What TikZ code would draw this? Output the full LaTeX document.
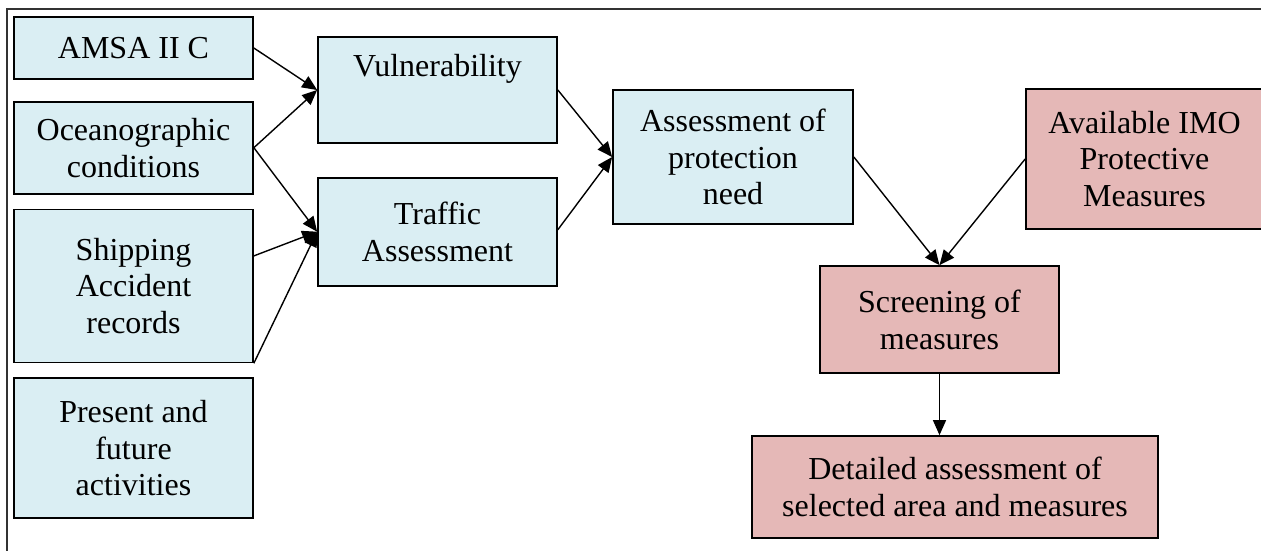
\documentclass[tikz,border=0pt]{standalone}
\usepackage{fontspec}
\setmainfont{Liberation Serif}
\usepackage{xcolor}
\usepackage{tikz}
\usetikzlibrary{arrows.meta, positioning, calc}

\definecolor{boxblue}{HTML}{DAEEF3}
\definecolor{boxpink}{HTML}{E5B8B7}

\begin{document}
\begin{tikzpicture}[
    x=1pt, y=-1pt,
    every node/.style={font=\fontsize{32pt}{36.8pt}\selectfont},
    bluebox/.style={rectangle, draw=black, line width=1.7pt, fill=boxblue, align=center, inner sep=4pt, minimum width=239pt},
    pinkbox/.style={rectangle, draw=black, line width=1.7pt, fill=boxpink, align=center, inner sep=4pt, minimum width=239pt},
    frame/.style={draw=black!80, line width=1.7pt},
    line/.style={draw=black, line width=1.4pt, -{Triangle[length=15pt, width=13pt]}}
]
\useasboundingbox (0,0) rectangle (1261,550);
\clip (0,0) rectangle (1261,550);
\draw[frame] (7,9) rectangle (1290,580);

% Nodes
\node[bluebox, minimum height=62pt] (amsa) at (133.5,48) {AMSA II C};
\node[bluebox, minimum height=92pt, below=21pt of amsa] (ocean) {Oceanographic \\ conditions};
\node[bluebox, minimum height=153pt, below=14pt of ocean] (ship) {Shipping \\ Accident \\ records};
\node[bluebox, minimum height=140pt, below=14pt of ship] (present) {Present and \\ future \\ activities};

\node[bluebox, minimum height=106pt, text depth=50pt] (vuln) at (437.5,90) {Vulnerability};
\node[bluebox, minimum height=108pt, below=33pt of vuln] (traffic) {Traffic \\ Assessment};

\node[bluebox, minimum width=240pt, minimum height=134pt] (assess) at (733,157) {Assessment of \\ protection \\ need};
\node[pinkbox, minimum width=237pt, minimum height=140pt] (imo) at (1144.5,159) {Available IMO \\ Protective \\ Measures};
\node[pinkbox, minimum height=107pt] (screen) at (939.5,319.5) {Screening of \\ measures};
\node[pinkbox, minimum width=406pt, minimum height=102pt] (detail) at (955,487) {Detailed assessment of \\ selected area and measures};

% Arrows
\draw[line] (amsa.east) -- (vuln.west);
\draw[line] (ocean.east) -- (vuln.west);
\draw[line] (ocean.east) -- (traffic.west);
\draw[line] ([yshift=30pt]ship.east) -- (traffic.west);
\draw[line] (ship.south east) -- (traffic.west);

\draw[line] (vuln.east) -- (assess.west);
\draw[line] ([yshift=2pt]traffic.east) -- (assess.west);

\draw[line] (assess.east) -- (screen.north);
\draw[line] (imo.west) -- (screen.north);
\draw[line] (screen.south) -- (screen.south |- detail.north);

\end{tikzpicture}
\end{document}
